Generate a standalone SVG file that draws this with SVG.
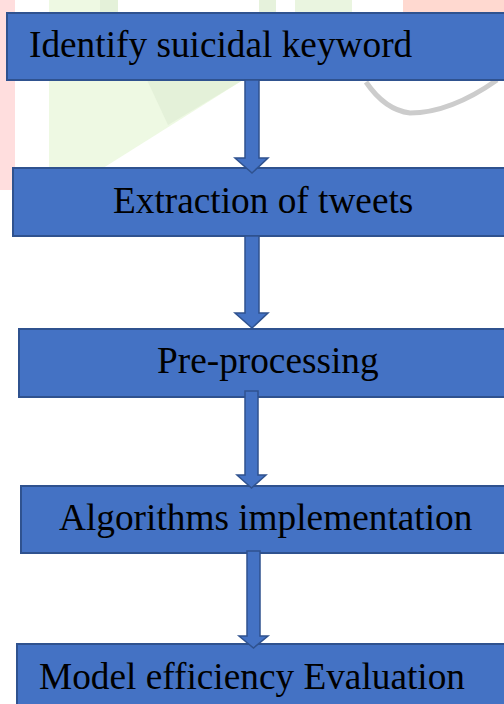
<svg xmlns="http://www.w3.org/2000/svg" width="504" height="704" viewBox="0 0 504 704">
<style>
.box{fill:#4472C4;stroke:#2F528F;stroke-width:2}
.lbl{font-family:"Liberation Serif","Times New Roman",serif;font-size:37.3px;fill:#000}
.arr{fill:#4472C4;stroke:#2F528F;stroke-width:1.5;stroke-linejoin:miter}
</style>
<rect width="504" height="704" fill="#fff"/>
<g id="watermark">
<rect x="0" y="0" width="15" height="190" fill="#ffdede"/>
<rect x="403" y="0" width="101" height="14" fill="#ffd9d0"/>
<rect x="49" y="0" width="69" height="14" fill="#eef9e3"/>
<rect x="100" y="0" width="18" height="14" fill="#e4f1d9"/>
<rect x="259" y="0" width="17" height="14" fill="#e6f2dc"/>
<rect x="295" y="0" width="57" height="14" fill="#eaf5e0"/>
<polygon points="49,14 243,80 100,170 49,170" fill="#eef9e3"/>
<polygon points="147,80 243,80 168,125" fill="#e4f1d9"/>
<path d="M366,82 Q385,110 410,113 Q450,113 497,80" fill="none" stroke="#cccccc" stroke-width="5"/>
</g>
<g id="n1"><rect class="box" x="7" y="13" width="510" height="67"/><text class="lbl" x="29" y="57">Identify suicidal keyword</text></g>
<g id="n2"><rect class="box" x="13" y="168" width="510" height="68"/><text class="lbl" x="113" y="213">Extraction of tweets</text></g>
<g id="n3"><rect class="box" x="19" y="329" width="510" height="68"/><text class="lbl" x="157" y="373">Pre-processing</text></g>
<g id="n4"><rect class="box" x="21" y="486" width="510" height="67"/><text class="lbl" x="59" y="530">Algorithms implementation</text></g>
<g id="n5"><rect class="box" x="17" y="644" width="510" height="80"/><text class="lbl" x="39" y="689">Model efficiency Evaluation</text></g>
<g id="connectors">
<polygon class="arr" points="245,80 259,80 259,158 268,158 252,173 235,158 245,158"/>
<polygon class="arr" points="245,236 259,236 259,313 268,313 252,328 235,313 245,313"/>
<polygon class="arr" points="245,391 258,391 258,475 266,475 251.5,488 237,475 245,475"/>
<polygon class="arr" points="247,551 260,551 260,636 268,636 253.5,648 239,636 247,636"/>
</g>
</svg>
